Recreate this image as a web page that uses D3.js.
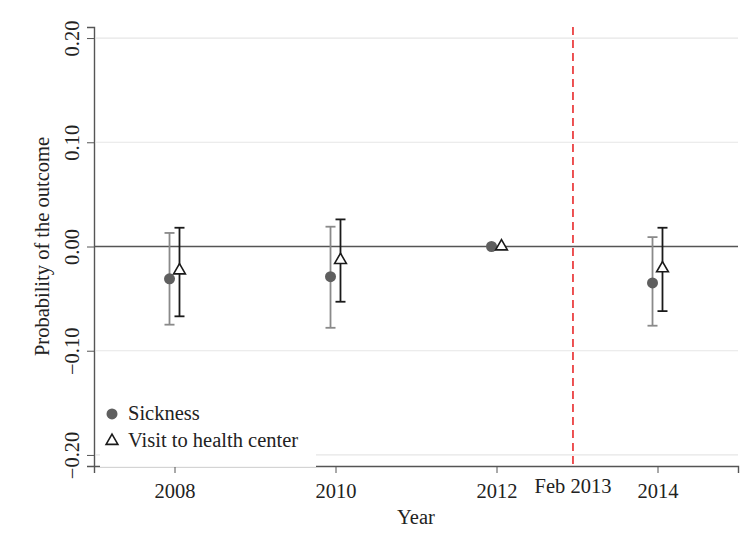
<!DOCTYPE html>
<html>
<head>
<meta charset="utf-8">
<script src="https://cdn.jsdelivr.net/npm/d3@7"></script>
<style>
  body { margin: 0; background: #fff; }
  text { font-family: "Liberation Serif", "Times New Roman", serif; fill: #222; }
</style>
</head>
<body>
<div id="chart"></div>
<script>
// values
const years = [2008, 2010, 2012, 2014];
const sickEst = [-0.031, -0.029, 0.0, -0.035];
const sickLo = [-0.075, -0.078, 0.0, -0.076];
const sickHi = [0.013, 0.019, 0.0, 0.009];
const visitEst = [-0.023, -0.013, 0.0, -0.021];
const visitLo = [-0.067, -0.053, 0.0, -0.062];
const visitHi = [0.018, 0.026, 0.0, 0.018];
const yTicks = [-0.2, -0.1, 0, 0.1, 0.2];
const eventYear = 2012.95;
const eventLabel = "Feb 2013";

let margin = { top: 27, right: 6, bottom: 77, left: 94 },
  width = 744 - margin.left - margin.right,
  height = 543 - margin.top - margin.bottom;

let fs = "20.5px";

let x = d3.scaleLinear().domain([2007, 2015]).range([0, width]);
let y = d3.scaleLinear().domain([-0.2106, 0.2106]).range([height, 0]);

let svg = d3.select("#chart")
  .append("svg")
  .attr("width", width + margin.left + margin.right)
  .attr("height", height + margin.top + margin.bottom)
  .append("g")
  .attr("transform", "translate(" + margin.left + "," + margin.top + ")");

// gridlines
svg.append("g")
  .selectAll("line")
  .data(yTicks.filter(d => d !== 0))
  .enter()
  .append("line")
  .attr("x1", 2).attr("x2", width)
  .attr("y1", d => y(d)).attr("y2", d => y(d))
  .attr("stroke", "#e6e6e6")
  .attr("stroke-width", 1.2);

// zero line
svg.append("line")
  .attr("x1", 0).attr("x2", width)
  .attr("y1", y(0)).attr("y2", y(0))
  .attr("stroke", "#555")
  .attr("stroke-width", 1.4);

// event line
svg.append("line")
  .attr("x1", x(eventYear)).attr("x2", x(eventYear))
  .attr("y1", 0).attr("y2", height)
  .attr("stroke", "#e8292b")
  .attr("stroke-width", 1.6)
  .attr("stroke-dasharray", "8,5");

// X axis
let xAxis = svg.append("g")
  .attr("transform", "translate(0," + height + ")")
  .call(d3.axisBottom(x).tickValues(years).tickFormat(d3.format("d")).tickSize(7).tickPadding(10));
xAxis.select(".domain").attr("stroke", "#555").attr("stroke-width", 1.4);
xAxis.selectAll(".tick line").attr("stroke", "#555");
xAxis.selectAll("text").style("font-size", fs).style("font-family", "Liberation Serif").attr("fill", "#222");

svg.append("text")
  .attr("x", x(eventYear))
  .attr("y", height + 27)
  .style("text-anchor", "middle")
  .style("font-size", fs)
  .text(eventLabel);

svg.append("text")
  .attr("transform", "translate(" + width / 2 + " ," + (height + 58) + ")")
  .style("text-anchor", "middle")
  .style("font-size", fs)
  .text("Year");

// Y axis
let yAxis = svg.append("g")
  .call(d3.axisLeft(y).tickValues(yTicks).tickFormat(d3.format(".2f")).tickSize(7).tickPadding(4));
yAxis.select(".domain").attr("stroke", "#555").attr("stroke-width", 1.4);
yAxis.selectAll(".tick line").attr("stroke", "#555");
yAxis.selectAll("text")
  .style("font-size", fs)
  .style("font-family", "Liberation Serif")
  .attr("fill", "#222")
  .attr("x", 0).attr("dy", 0)
  .attr("transform", "translate(-15,0) rotate(-90)")
  .style("text-anchor", "middle");

svg.append("text")
  .attr("transform", "rotate(-90)")
  .attr("y", -45)
  .attr("x", 0 - height / 2)
  .style("text-anchor", "middle")
  .style("font-size", fs)
  .text("Probability of the outcome");

// data rows
let rows = years.map((yr, i) => ({
  yr: yr,
  s: sickEst[i], sl: sickLo[i], sh: sickHi[i],
  v: visitEst[i], vl: visitLo[i], vh: visitHi[i]
}));
let off = 0.062, cap = 5;

// sickness CI (gray)
let sg = svg.append("g").attr("stroke", "#8a8a8a").attr("stroke-width", 1.8);
rows.filter(d => d.sl !== d.sh).forEach(d => {
  let cx = x(d.yr - off);
  sg.append("line").attr("x1", cx).attr("x2", cx).attr("y1", y(d.sh)).attr("y2", y(d.sl));
  sg.append("line").attr("x1", cx - cap).attr("x2", cx + cap).attr("y1", y(d.sh)).attr("y2", y(d.sh));
  sg.append("line").attr("x1", cx - cap).attr("x2", cx + cap).attr("y1", y(d.sl)).attr("y2", y(d.sl));
});

// visit CI (black)
let vg = svg.append("g").attr("stroke", "#1a1a1a").attr("stroke-width", 1.8);
rows.filter(d => d.vl !== d.vh).forEach(d => {
  let cx = x(d.yr + off);
  vg.append("line").attr("x1", cx).attr("x2", cx).attr("y1", y(d.vh)).attr("y2", y(d.vl));
  vg.append("line").attr("x1", cx - cap).attr("x2", cx + cap).attr("y1", y(d.vh)).attr("y2", y(d.vh));
  vg.append("line").attr("x1", cx - cap).attr("x2", cx + cap).attr("y1", y(d.vl)).attr("y2", y(d.vl));
});

let tri = d3.symbol().type(d3.symbolTriangle).size(60);

svg.selectAll("circle.sick")
  .data(rows)
  .enter()
  .append("circle")
  .attr("class", "sick")
  .attr("cx", d => x(d.yr - off))
  .attr("cy", d => y(d.s))
  .attr("r", 5.5)
  .attr("fill", "#5f5f5f");

svg.selectAll("path.visit")
  .data(rows)
  .enter()
  .append("path")
  .attr("class", "visit")
  .attr("d", tri)
  .attr("transform", d => "translate(" + x(d.yr + off) + "," + y(d.v) + ")")
  .attr("fill", "#fff")
  .attr("stroke", "#1a1a1a")
  .attr("stroke-width", 1.6);

// legend
let lg = svg.append("g").attr("transform", "translate(6," + (y(-0.2) - 63) + ")");
lg.append("rect").attr("x", 0).attr("y", 0).attr("width", 216).attr("height", 75).attr("fill", "#fff");
lg.append("circle").attr("cx", 12).attr("cy", 22).attr("r", 5.5).attr("fill", "#5f5f5f");
lg.append("text").attr("x", 28).attr("y", 28).style("font-size", fs).text("Sickness");
lg.append("path").attr("d", tri).attr("transform", "translate(12,49)")
  .attr("fill", "#fff").attr("stroke", "#1a1a1a").attr("stroke-width", 1.6);
lg.append("text").attr("x", 28).attr("y", 55).style("font-size", fs).text("Visit to health center");
</script>
</body>
</html>
